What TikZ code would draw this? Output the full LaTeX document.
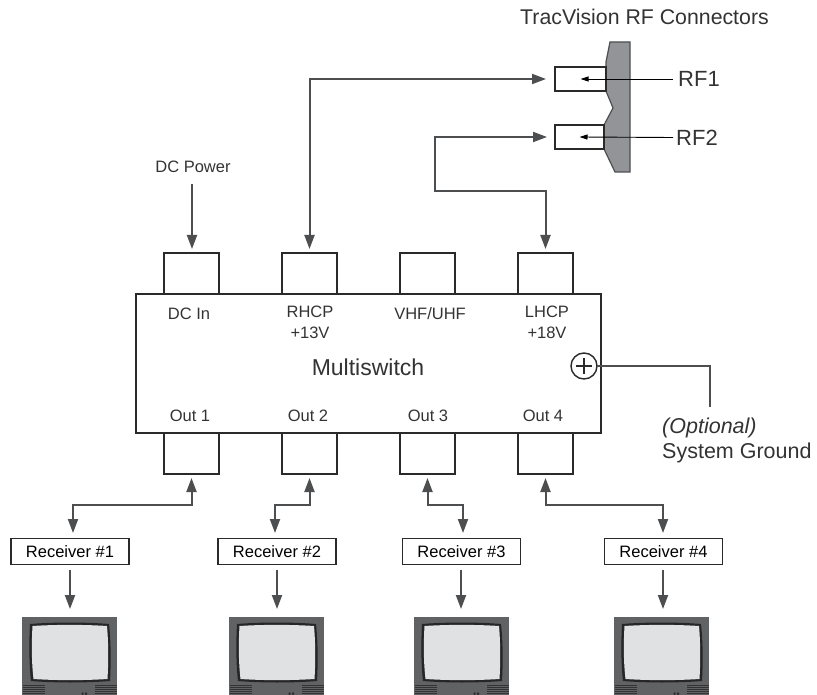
\documentclass[tikz,border=0pt]{standalone}
\usepackage{fontspec}
\setmainfont{Liberation Sans}
\usetikzlibrary{arrows.meta}
\definecolor{wiregray}{HTML}{4D4E50}
\definecolor{boxline}{HTML}{2B2A2B}
\definecolor{platefill}{HTML}{929497}
\definecolor{tvbody}{HTML}{616264}
\definecolor{tvglass}{HTML}{E0E1E3}
\tikzset{
  wire/.style={draw=wiregray,line width=2pt,-{Triangle[length=14pt,width=10pt]},shorten >=4pt},
  biwire/.style={draw=wiregray,line width=2pt,{Triangle[length=14pt,width=10pt]}-{Triangle[length=14pt,width=10pt]},shorten <=4pt,shorten >=5pt},
  thinwire/.style={draw=black,line width=0.9pt,-{Triangle[length=8pt,width=5pt]}},
  port/.style={draw=boxline,line width=1.5pt,fill=white,minimum width=55pt,minimum height=41pt,inner sep=0pt,outer sep=0pt},
  rfbox/.style={draw=boxline,line width=1.4pt,fill=white,minimum height=24pt,inner sep=0pt,outer sep=0pt},
  rxbox/.style={draw=boxline,line width=1.4pt,fill=white,minimum width=118pt,minimum height=26pt,inner sep=0pt,outer sep=0pt},
  tvcase/.style={fill=tvbody,minimum width=95pt,minimum height=78pt,inner sep=0pt,outer sep=0pt},
  lab/.style={text=black!80,inner sep=0pt,align=center,font=\fontsize{16.5}{21}\selectfont},
}
\begin{document}
\begin{tikzpicture}[x=1pt,y=-1pt]
\useasboundingbox (0,0) rectangle (817,695);

\fill [platefill] (610,42) -- (630,42) -- (630,172) -- (615,172) -- (604,149) -- (604,125) -- (613,108) -- (606,91) -- (606,62) -- cycle;
\draw [wiregray,line width=1.2pt] (610,42) -- (630,42) -- (630,172) -- (615,172) -- (604,149) -- (604,125) -- (613,108) -- (606,91) -- (606,62) -- cycle;
\node [rfbox,minimum width=51pt] (rfbox1) at (580.5,79) {};
\node [rfbox,minimum width=49pt] (rfbox2) at (579.5,137) {};
\node [lab,anchor=west,font=\fontsize{21.3}{25}\selectfont] (rftitle) at (520,17) {TracVision RF Connectors};
\node [lab,anchor=west,font=\fontsize{22}{26}\selectfont] (rf1) at (678,79) {RF1};
\node [lab,anchor=west,font=\fontsize{22}{26}\selectfont] (rf2) at (676,138) {RF2};
\draw [thinwire] (rf1.west) ++(-5,0) coordinate (rfend1) -- (rfbox1.center);
\draw [thinwire] (rf2.west) ++(-3,-0.5) coordinate (rfend2) -- (rfbox2.center);

\node [draw=boxline,line width=2pt,fill=white,minimum width=465pt,minimum height=139pt,inner sep=0pt,outer sep=0pt] (switch) at (368.5,363.5) {};
\foreach \i/\x in {1/191.5,2/309.5,3/427.5,4/545.5} {
  \node [port] (inport\i) at (\x,273.5) {};
  \node [port] (outport\i) at (\x,453.5) {};
}
\node [lab] (dcpower) at (193,167) {DC Power};
\node [lab] (dcin) at (189,314) {DC In};
\node [lab,anchor=north] (rhcp) at (310,306) {RHCP\\+13V};
\node [lab] (vhf) at (430,314) {VHF/UHF};
\node [lab,anchor=north] (lhcp) at (547,306) {LHCP\\+18V};
\node [lab,font=\fontsize{23}{27}\selectfont] (multi) at (368,367) {Multiswitch};
\node [lab] (out1) at (190,416) {Out 1};
\node [lab] (out2) at (308,416) {Out 2};
\node [lab] (out3) at (428,416) {Out 3};
\node [lab] (out4) at (543,416) {Out 4};

\node [circle,draw=boxline,line width=1.4pt,fill=white,minimum size=26pt,inner sep=0pt,outer sep=0pt] (gnd) at (584,366) {};
\draw [boxline,line width=1.4pt] (gnd.center) ++(-8,0) -- ++(16,0) (gnd.center) ++(0,-8) -- ++(0,16);
\node [lab,anchor=west,font=\fontsize{21.5}{25}\selectfont\itshape] (optional) at (662,428) {(Optional)};
\node [lab,anchor=west,font=\fontsize{21.5}{25}\selectfont] (sysgnd) at (662,453) {System Ground};
\coordinate (gndend) at (710,407);
\draw [wiregray,line width=2pt] (gnd.east) -| (gndend);

\draw [wire,shorten <=0pt] (dcpower.south) ++(-1,11) coordinate (dcstart) -- (dcstart |- inport1.north);
\draw [biwire,shorten <=9pt,shorten >=4pt] (rfbox1.west) -| (inport2.north);
\coordinate (rfbend) at (435,191);
\draw [biwire,shorten <=8pt,shorten >=4pt] (rfbox2.west) -| (rfbend) -| (inport4.north);

\foreach \i/\x/\y/\a/\t in {1/70/73/70/22,2/277/275/277/229,3/461.5/463/461/414,4/663.5/663/663/614} {
  \node [rxbox] (rx\i) at (\x,551.5) {\fontsize{16.5}{20}\selectfont Receiver \#\i};
  \coordinate (rxtop\i) at (\y,538);
  \draw [biwire] (outport\i.south) -- (outport\i.south |- 0,505) -| (rxtop\i);
  \node [tvcase,anchor=north west] (tv\i) at (\t,617) {};
  \draw [wire,shorten <=5pt,shorten >=8pt] (\a,565) -- (\a,617);
  \begin{scope}[shift={(\t,617)}]
    \fill [black!85] (8,7) .. controls (32,5) and (63,5) .. (87,7) .. controls (89,25) and (89,46) .. (88,64) .. controls (63,66) and (33,66) .. (9,64) .. controls (7,46) and (7,25) .. (8,7) -- cycle;
    \fill [tvglass] (10.5,9) .. controls (33,7.5) and (62,7.5) .. (85,9) .. controls (86.5,26) and (86.5,45) .. (85.5,62) .. controls (62,63.5) and (34,63.5) .. (11.5,62) .. controls (9.5,45) and (9.5,26) .. (10.5,9) -- cycle;
    \foreach \v in {68.5,70.5,72.5,74.5,76.5} {
      \draw [black!80,line width=0.6pt] (1,\v) -- (23,\v) (73,\v) -- (95,\v);
    }
    \fill [black!85] (59.5,75.5) rectangle ++(2,2) (63,75.5) rectangle ++(2,2);
  \end{scope}
}
\end{tikzpicture}
\end{document}
